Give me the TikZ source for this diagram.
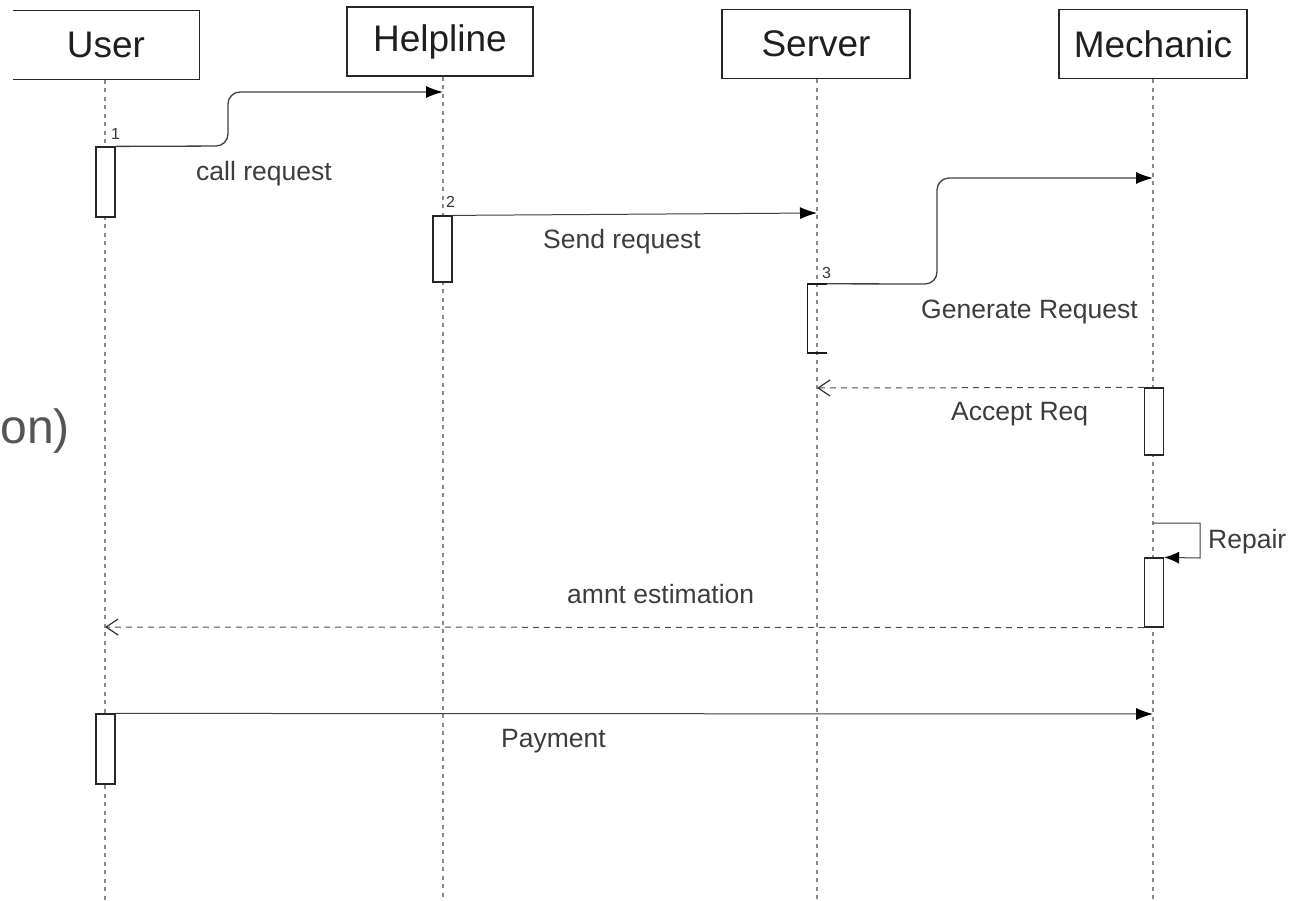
\documentclass[tikz,border=0pt]{standalone}
\usepackage{fontspec}
\setmainfont{Liberation Sans}
\usetikzlibrary{arrows.meta}
\definecolor{lifegray}{HTML}{8A8A8A}
\definecolor{labgray}{HTML}{3C3C3C}
\definecolor{ongray}{HTML}{555555}
\tikzset{
  party/.style={minimum width=186pt, minimum height=69pt, inner sep=0pt, font=\fontsize{37}{40}\selectfont, text=black!88},
  partybox/.style={party, draw=black!85, line width=1.3pt},
  lifeline/.style={draw=lifegray, line width=1.3pt, dash pattern=on 4pt off 4.5pt},
  actbox/.style={draw=black!85, fill=white, line width=1.2pt, minimum width=19pt, inner sep=0pt},
  msg/.style={draw=black!75, line width=1pt, -{Latex[length=17pt,width=12pt,black]}},
  curvemsg/.style={msg, line width=1.3pt, rounded corners=12pt},
  retmsg/.style={draw=black!70, line width=1pt, dash pattern=on 6pt off 5pt, -{Straight Barb[length=12pt,width=16pt,line width=1.2pt,black!80]}},
  msglabel/.style={anchor=base west, inner sep=0pt, text=labgray, font=\fontsize{26.5}{28}\selectfont},
  numlabel/.style={anchor=base west, inner sep=0pt, text=black!80, font=\fontsize{16}{17}\selectfont}
}
\begin{document}
\begin{tikzpicture}[x=1pt, y=-1pt]
\useasboundingbox (0,0) rectangle (1299,900);
% participants
\node[party] (user) at (106,45) {User};
\draw[black!85, line width=1.3pt] (user.north west) -- (user.north east) -- (user.south east) -- (user.south west);
\node[partybox] (help) at (440,41.5) {Helpline};
\node[partybox, minimum width=188pt] (serv) at (816,44) {Server};
\node[partybox, minimum width=188pt] (mech) at (1153,44) {Mechanic};
% lifeline ends
\coordinate (userend) at (105,900);
\coordinate (helpend) at (443,900);
\coordinate (servend) at (817,900);
\coordinate (mechend) at (1153,900);
\draw[lifeline] (user.south -| userend) -- (userend);
\draw[lifeline] (help.south -| helpend) -- (helpend);
\draw[lifeline] (serv.south -| servend) -- (servend);
\draw[lifeline] (mech.south -| mechend) -- (mechend);
% activations
\node[actbox, minimum height=70pt] (ua1) at (105.5,182) {};
\node[actbox, minimum height=66pt] (ha1) at (442.5,249) {};
\node[inner sep=0pt, minimum width=19pt, minimum height=69pt] (sa1) at (817,318.5) {};
\draw[black!90, line width=1.6pt] (sa1.north east) -- (sa1.north west) -- (sa1.south west) -- (sa1.south east);
\node[actbox, minimum height=67pt] (ma1) at (1154,421.5) {};
\node[actbox, minimum height=69pt] (ma2) at (1154,592.5) {};
\node[actbox, minimum height=70pt] (ua2) at (105.5,749) {};
% message targets
\coordinate (t1) at (443,92);
\coordinate (t2) at (817,213);
\coordinate (t3) at (1153,178);
\coordinate (t4) at (817,388);
\coordinate (t5) at (105,627);
\coordinate (t6) at (1153,714);
\coordinate (rs) at (1153,523);
% messages
\draw[curvemsg] (ua1.north east) -- (228,146) -- (228,92) -- (t1);
\draw[msg] (ha1.north east) -- (t2);
\draw[curvemsg] (sa1.north east) -- (937,284) -- (937,178) -- (t3);
\draw[retmsg] (ma1.north west) -- (t4);
\draw[msg, -{Latex[length=15pt,width=12pt,black]}] (rs) -- (1200,523) -- (1200,558) -- (ma2.north east);
\draw[retmsg] (ma2.south west) -- (t5);
\draw[msg] (ua2.north east) -- (t6);
% labels
\node[numlabel] (n1) at (111,139) {1};
\node[numlabel] (n2) at (446,207) {2};
\node[numlabel] (n3) at (822,278) {3};
\node[msglabel] (l1) at (196,180) {call request};
\node[msglabel] (l2) at (543,248) {Send request};
\node[msglabel] (l3) at (921,318) {Generate Request};
\node[msglabel] (l4) at (951,420) {Accept Req};
\node[msglabel] (l5) at (1208,548) {Repair};
\node[msglabel] (l6) at (567,603) {amnt estimation};
\node[msglabel] (l7) at (501,747) {Payment};
\node[anchor=base east, inner sep=0pt, text=ongray, font=\fontsize{48}{50}\selectfont] (on) at (70,443) {on)};
\end{tikzpicture}
\end{document}
